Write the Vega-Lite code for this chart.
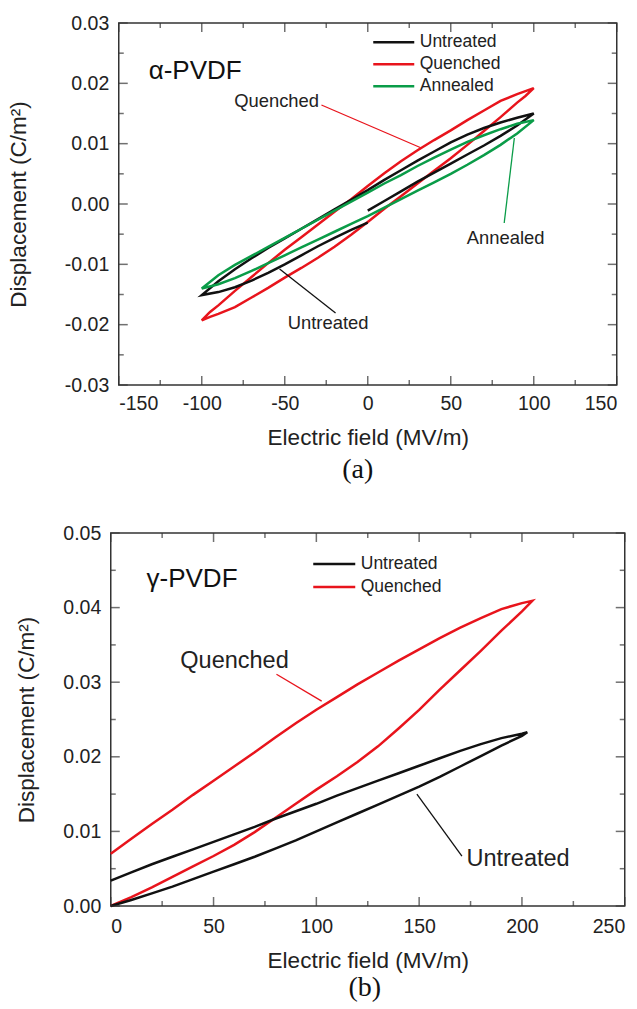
{
  "$schema": "https://vega.github.io/schema/vega-lite/v6.json",
  "padding": {"left": 6.5, "top": 12, "right": 0, "bottom": 5},
  "background": "white",
  "config": {
    "font": "Liberation Sans",
    "view": {"stroke": "#333333", "strokeWidth": 1.5},
    "axis": {"domain": false, "ticks": false, "grid": false, "labelFont": "Liberation Sans", "labelFontSize": 19.5, "labelColor": "#222222", "titleFont": "Liberation Sans", "titleFontSize": 22.5, "titleFontWeight": "normal", "titleColor": "#222222"},
    "legend": {"title": null, "symbolType": "stroke", "symbolStrokeWidth": 2.5, "labelFont": "Liberation Sans", "labelFontSize": 17.5, "labelColor": "#222222", "labelOffset": 4, "padding": 0, "rowPadding": 2}
  },
  "datasets": {
    "alpha": [
      {"s":"Quenched","i":0,"E":0,"D":-0.0030},{"s":"Quenched","i":1,"E":10,"D":-0.0008},{"s":"Quenched","i":2,"E":20,"D":0.0013},{"s":"Quenched","i":3,"E":30,"D":0.0034},{"s":"Quenched","i":4,"E":40,"D":0.0055},{"s":"Quenched","i":5,"E":50,"D":0.0076},{"s":"Quenched","i":6,"E":60,"D":0.0098},{"s":"Quenched","i":7,"E":70,"D":0.0121},{"s":"Quenched","i":8,"E":80,"D":0.0144},{"s":"Quenched","i":9,"E":90,"D":0.0168},{"s":"Quenched","i":10,"E":95,"D":0.0179},{"s":"Quenched","i":11,"E":100,"D":0.0192},
      {"s":"Quenched","i":12,"E":95,"D":0.0187},{"s":"Quenched","i":13,"E":90,"D":0.0182},{"s":"Quenched","i":14,"E":80,"D":0.0171},{"s":"Quenched","i":15,"E":70,"D":0.0155},{"s":"Quenched","i":16,"E":60,"D":0.0139},{"s":"Quenched","i":17,"E":50,"D":0.0122},{"s":"Quenched","i":18,"E":40,"D":0.0106},{"s":"Quenched","i":19,"E":30,"D":0.0089},{"s":"Quenched","i":20,"E":20,"D":0.0071},{"s":"Quenched","i":21,"E":10,"D":0.0051},{"s":"Quenched","i":22,"E":0,"D":0.0030},{"s":"Quenched","i":23,"E":-10,"D":0.0008},{"s":"Quenched","i":24,"E":-20,"D":-0.0013},{"s":"Quenched","i":25,"E":-30,"D":-0.0034},{"s":"Quenched","i":26,"E":-40,"D":-0.0055},{"s":"Quenched","i":27,"E":-50,"D":-0.0076},{"s":"Quenched","i":28,"E":-60,"D":-0.0098},{"s":"Quenched","i":29,"E":-70,"D":-0.0121},{"s":"Quenched","i":30,"E":-80,"D":-0.0144},{"s":"Quenched","i":31,"E":-90,"D":-0.0168},{"s":"Quenched","i":32,"E":-95,"D":-0.0179},{"s":"Quenched","i":33,"E":-100,"D":-0.0193},
      {"s":"Quenched","i":34,"E":-95,"D":-0.0187},{"s":"Quenched","i":35,"E":-90,"D":-0.0182},{"s":"Quenched","i":36,"E":-80,"D":-0.0171},{"s":"Quenched","i":37,"E":-70,"D":-0.0155},{"s":"Quenched","i":38,"E":-60,"D":-0.0139},{"s":"Quenched","i":39,"E":-50,"D":-0.0122},{"s":"Quenched","i":40,"E":-40,"D":-0.0106},{"s":"Quenched","i":41,"E":-30,"D":-0.0089},{"s":"Quenched","i":42,"E":-20,"D":-0.0071},{"s":"Quenched","i":43,"E":-10,"D":-0.0051},{"s":"Quenched","i":44,"E":0,"D":-0.0030},
      {"s":"Untreated","i":0,"E":0,"D":-0.0011},{"s":"Untreated","i":1,"E":10,"D":0.0005},{"s":"Untreated","i":2,"E":20,"D":0.0021},{"s":"Untreated","i":3,"E":30,"D":0.0037},{"s":"Untreated","i":4,"E":40,"D":0.0052},{"s":"Untreated","i":5,"E":50,"D":0.0067},{"s":"Untreated","i":6,"E":60,"D":0.0082},{"s":"Untreated","i":7,"E":70,"D":0.0097},{"s":"Untreated","i":8,"E":80,"D":0.0113},{"s":"Untreated","i":9,"E":90,"D":0.0130},{"s":"Untreated","i":10,"E":100,"D":0.0150},
      {"s":"Untreated","i":11,"E":90,"D":0.0143},{"s":"Untreated","i":12,"E":80,"D":0.0135},{"s":"Untreated","i":13,"E":70,"D":0.0126},{"s":"Untreated","i":14,"E":60,"D":0.0115},{"s":"Untreated","i":15,"E":50,"D":0.0102},{"s":"Untreated","i":16,"E":40,"D":0.0087},{"s":"Untreated","i":17,"E":30,"D":0.0072},{"s":"Untreated","i":18,"E":20,"D":0.0056},{"s":"Untreated","i":19,"E":10,"D":0.0040},{"s":"Untreated","i":20,"E":0,"D":0.0023},{"s":"Untreated","i":21,"E":-10,"D":0.0007},{"s":"Untreated","i":22,"E":-20,"D":-0.0009},{"s":"Untreated","i":23,"E":-30,"D":-0.0025},{"s":"Untreated","i":24,"E":-40,"D":-0.0041},{"s":"Untreated","i":25,"E":-50,"D":-0.0057},{"s":"Untreated","i":26,"E":-60,"D":-0.0073},{"s":"Untreated","i":27,"E":-70,"D":-0.0090},{"s":"Untreated","i":28,"E":-80,"D":-0.0108},{"s":"Untreated","i":29,"E":-90,"D":-0.0128},{"s":"Untreated","i":30,"E":-100,"D":-0.0151},
      {"s":"Untreated","i":31,"E":-90,"D":-0.0146},{"s":"Untreated","i":32,"E":-80,"D":-0.0138},{"s":"Untreated","i":33,"E":-70,"D":-0.0127},{"s":"Untreated","i":34,"E":-60,"D":-0.0114},{"s":"Untreated","i":35,"E":-50,"D":-0.0100},{"s":"Untreated","i":36,"E":-40,"D":-0.0085},{"s":"Untreated","i":37,"E":-30,"D":-0.0070},{"s":"Untreated","i":38,"E":-20,"D":-0.0056},{"s":"Untreated","i":39,"E":-10,"D":-0.0043},{"s":"Untreated","i":40,"E":0,"D":-0.0031},
      {"s":"Annealed","i":0,"E":0,"D":-0.0020},{"s":"Annealed","i":1,"E":10,"D":-0.0006},{"s":"Annealed","i":2,"E":20,"D":0.0008},{"s":"Annealed","i":3,"E":30,"D":0.0022},{"s":"Annealed","i":4,"E":40,"D":0.0036},{"s":"Annealed","i":5,"E":50,"D":0.0050},{"s":"Annealed","i":6,"E":60,"D":0.0065},{"s":"Annealed","i":7,"E":70,"D":0.0081},{"s":"Annealed","i":8,"E":80,"D":0.0098},{"s":"Annealed","i":9,"E":90,"D":0.0117},{"s":"Annealed","i":10,"E":100,"D":0.0139},
      {"s":"Annealed","i":11,"E":90,"D":0.0133},{"s":"Annealed","i":12,"E":80,"D":0.0124},{"s":"Annealed","i":13,"E":70,"D":0.0114},{"s":"Annealed","i":14,"E":60,"D":0.0103},{"s":"Annealed","i":15,"E":50,"D":0.0090},{"s":"Annealed","i":16,"E":40,"D":0.0077},{"s":"Annealed","i":17,"E":30,"D":0.0063},{"s":"Annealed","i":18,"E":20,"D":0.0048},{"s":"Annealed","i":19,"E":10,"D":0.0034},{"s":"Annealed","i":20,"E":0,"D":0.0019},{"s":"Annealed","i":21,"E":-10,"D":0.0004},{"s":"Annealed","i":22,"E":-20,"D":-0.0011},{"s":"Annealed","i":23,"E":-30,"D":-0.0026},{"s":"Annealed","i":24,"E":-40,"D":-0.0041},{"s":"Annealed","i":25,"E":-50,"D":-0.0056},{"s":"Annealed","i":26,"E":-60,"D":-0.0071},{"s":"Annealed","i":27,"E":-70,"D":-0.0086},{"s":"Annealed","i":28,"E":-80,"D":-0.0101},{"s":"Annealed","i":29,"E":-90,"D":-0.0118},{"s":"Annealed","i":30,"E":-100,"D":-0.0140},
      {"s":"Annealed","i":31,"E":-90,"D":-0.0133},{"s":"Annealed","i":32,"E":-80,"D":-0.0123},{"s":"Annealed","i":33,"E":-70,"D":-0.0111},{"s":"Annealed","i":34,"E":-60,"D":-0.0098},{"s":"Annealed","i":35,"E":-50,"D":-0.0085},{"s":"Annealed","i":36,"E":-40,"D":-0.0072},{"s":"Annealed","i":37,"E":-30,"D":-0.0059},{"s":"Annealed","i":38,"E":-20,"D":-0.0046},{"s":"Annealed","i":39,"E":-10,"D":-0.0033},{"s":"Annealed","i":40,"E":0,"D":-0.0020}
    ],
    "alphaNotes": [
      {"s":"Quenched","label":"Quenched","tx":-54.9,"ty":0.0171,"x1":-27.9,"y1":0.01641,"x2":32.3,"y2":0.00928},
      {"s":"Annealed","label":"Annealed","tx":83.1,"ty":-0.00564,"x1":82.2,"y1":-0.00315,"x2":88.3,"y2":0.01094},
      {"s":"Untreated","label":"Untreated","tx":-23.9,"ty":-0.01972,"x1":-19.4,"y1":-0.01807,"x2":-53.1,"y2":-0.01077}
    ],
    "alphaTag": [{"label":"α-PVDF","E":-132,"D":0.0221}],
    "alphaTicksX": [
      {"v":-150,"k":"major"},{"v":-125,"k":"minor"},{"v":-100,"k":"major"},{"v":-75,"k":"minor"},{"v":-50,"k":"major"},{"v":-25,"k":"minor"},{"v":0,"k":"major"},
      {"v":25,"k":"minor"},{"v":50,"k":"major"},{"v":75,"k":"minor"},{"v":100,"k":"major"},{"v":125,"k":"minor"},{"v":150,"k":"major"}
    ],
    "alphaTicksY": [
      {"v":-0.03,"k":"major"},{"v":-0.025,"k":"minor"},{"v":-0.02,"k":"major"},{"v":-0.015,"k":"minor"},{"v":-0.01,"k":"major"},{"v":-0.005,"k":"minor"},{"v":0,"k":"major"},
      {"v":0.005,"k":"minor"},{"v":0.01,"k":"major"},{"v":0.015,"k":"minor"},{"v":0.02,"k":"major"},{"v":0.025,"k":"minor"},{"v":0.03,"k":"major"}
    ],
    "gamma": [
      {"s":"Quenched","i":0,"E":0,"D":0},{"s":"Quenched","i":1,"E":10,"D":0.0012},{"s":"Quenched","i":2,"E":20,"D":0.0025},{"s":"Quenched","i":3,"E":30,"D":0.0039},{"s":"Quenched","i":4,"E":40,"D":0.0053},{"s":"Quenched","i":5,"E":50,"D":0.0067},{"s":"Quenched","i":6,"E":60,"D":0.0082},{"s":"Quenched","i":7,"E":70,"D":0.0099},{"s":"Quenched","i":8,"E":80,"D":0.0118},{"s":"Quenched","i":9,"E":90,"D":0.0137},{"s":"Quenched","i":10,"E":100,"D":0.0156},{"s":"Quenched","i":11,"E":110,"D":0.0174},{"s":"Quenched","i":12,"E":120,"D":0.0193},{"s":"Quenched","i":13,"E":130,"D":0.0214},{"s":"Quenched","i":14,"E":140,"D":0.0238},{"s":"Quenched","i":15,"E":150,"D":0.0263},{"s":"Quenched","i":16,"E":160,"D":0.0290},{"s":"Quenched","i":17,"E":170,"D":0.0316},{"s":"Quenched","i":18,"E":180,"D":0.0342},{"s":"Quenched","i":19,"E":190,"D":0.0369},{"s":"Quenched","i":20,"E":200,"D":0.0395},{"s":"Quenched","i":21,"E":205,"D":0.0409},
      {"s":"Quenched","i":22,"E":200,"D":0.0406},{"s":"Quenched","i":23,"E":190,"D":0.0398},{"s":"Quenched","i":24,"E":180,"D":0.0386},{"s":"Quenched","i":25,"E":170,"D":0.0373},{"s":"Quenched","i":26,"E":160,"D":0.0359},{"s":"Quenched","i":27,"E":150,"D":0.0344},{"s":"Quenched","i":28,"E":140,"D":0.0329},{"s":"Quenched","i":29,"E":130,"D":0.0313},{"s":"Quenched","i":30,"E":120,"D":0.0297},{"s":"Quenched","i":31,"E":110,"D":0.0280},{"s":"Quenched","i":32,"E":100,"D":0.0263},{"s":"Quenched","i":33,"E":90,"D":0.0245},{"s":"Quenched","i":34,"E":80,"D":0.0226},{"s":"Quenched","i":35,"E":70,"D":0.0206},{"s":"Quenched","i":36,"E":60,"D":0.0187},{"s":"Quenched","i":37,"E":50,"D":0.0168},{"s":"Quenched","i":38,"E":40,"D":0.0149},{"s":"Quenched","i":39,"E":30,"D":0.0129},{"s":"Quenched","i":40,"E":20,"D":0.0110},{"s":"Quenched","i":41,"E":10,"D":0.0090},{"s":"Quenched","i":42,"E":0,"D":0.0070},
      {"s":"Untreated","i":0,"E":0,"D":0},{"s":"Untreated","i":1,"E":10,"D":0.0008},{"s":"Untreated","i":2,"E":20,"D":0.0017},{"s":"Untreated","i":3,"E":30,"D":0.0026},{"s":"Untreated","i":4,"E":40,"D":0.0036},{"s":"Untreated","i":5,"E":50,"D":0.0046},{"s":"Untreated","i":6,"E":60,"D":0.0056},{"s":"Untreated","i":7,"E":70,"D":0.0066},{"s":"Untreated","i":8,"E":80,"D":0.0077},{"s":"Untreated","i":9,"E":90,"D":0.0088},{"s":"Untreated","i":10,"E":100,"D":0.0100},{"s":"Untreated","i":11,"E":110,"D":0.0112},{"s":"Untreated","i":12,"E":120,"D":0.0124},{"s":"Untreated","i":13,"E":130,"D":0.0136},{"s":"Untreated","i":14,"E":140,"D":0.0148},{"s":"Untreated","i":15,"E":150,"D":0.0160},{"s":"Untreated","i":16,"E":160,"D":0.0173},{"s":"Untreated","i":17,"E":170,"D":0.0187},{"s":"Untreated","i":18,"E":180,"D":0.0201},{"s":"Untreated","i":19,"E":190,"D":0.0215},{"s":"Untreated","i":20,"E":200,"D":0.0228},{"s":"Untreated","i":21,"E":202.6,"D":0.0233},
      {"s":"Untreated","i":22,"E":200,"D":0.0231},{"s":"Untreated","i":23,"E":190,"D":0.0225},{"s":"Untreated","i":24,"E":180,"D":0.0217},{"s":"Untreated","i":25,"E":170,"D":0.0208},{"s":"Untreated","i":26,"E":160,"D":0.0198},{"s":"Untreated","i":27,"E":150,"D":0.0188},{"s":"Untreated","i":28,"E":140,"D":0.0178},{"s":"Untreated","i":29,"E":130,"D":0.0168},{"s":"Untreated","i":30,"E":120,"D":0.0158},{"s":"Untreated","i":31,"E":110,"D":0.0148},{"s":"Untreated","i":32,"E":100,"D":0.0137},{"s":"Untreated","i":33,"E":90,"D":0.0127},{"s":"Untreated","i":34,"E":80,"D":0.0117},{"s":"Untreated","i":35,"E":70,"D":0.0106},{"s":"Untreated","i":36,"E":60,"D":0.0096},{"s":"Untreated","i":37,"E":50,"D":0.0086},{"s":"Untreated","i":38,"E":40,"D":0.0076},{"s":"Untreated","i":39,"E":30,"D":0.0066},{"s":"Untreated","i":40,"E":20,"D":0.0056},{"s":"Untreated","i":41,"E":10,"D":0.0045},{"s":"Untreated","i":42,"E":0,"D":0.0034}
    ],
    "gammaNotes": [
      {"s":"Quenched","label":"Quenched","tx":60.2,"ty":0.0328,"x1":80.6,"y1":0.03107,"x2":102.6,"y2":0.02746},
      {"s":"Untreated","label":"Untreated","tx":198.1,"ty":0.0063,"x1":170.8,"y1":0.0067,"x2":148.9,"y2":0.0150}
    ],
    "gammaTag": [{"label":"γ-PVDF","E":17.4,"D":0.0438}],
    "gammaTicksX": [
      {"v":0,"k":"major"},{"v":25,"k":"minor"},{"v":50,"k":"major"},{"v":75,"k":"minor"},{"v":100,"k":"major"},{"v":125,"k":"minor"},
      {"v":150,"k":"major"},{"v":175,"k":"minor"},{"v":200,"k":"major"},{"v":225,"k":"minor"},{"v":250,"k":"major"}
    ],
    "gammaTicksY": [
      {"v":0,"k":"major"},{"v":0.005,"k":"minor"},{"v":0.01,"k":"major"},{"v":0.015,"k":"minor"},{"v":0.02,"k":"major"},{"v":0.025,"k":"minor"},
      {"v":0.03,"k":"major"},{"v":0.035,"k":"minor"},{"v":0.04,"k":"major"},{"v":0.045,"k":"minor"},{"v":0.05,"k":"major"}
    ]
  },
  "center": true,
  "spacing": 37,
  "resolve": {"scale": {"color": "independent"}, "legend": {"color": "independent"}},
  "vconcat": [
    {
      "width": 498,
      "height": 362,
      "title": {"text": "(a)", "orient": "bottom", "anchor": "middle", "font": "Liberation Serif", "fontSize": 28, "fontWeight": "normal", "color": "#111111", "offset": 7, "dx": -10},
      "layer": [
        {
          "data": {"name": "alpha"},
          "mark": {"type": "line", "strokeWidth": 2.5},
          "encoding": {
            "x": {"field": "E", "type": "quantitative", "scale": {"domain": [-150, 150], "nice": false, "zero": false},
                  "axis": {"orient": "bottom", "title": "Electric field (MV/m)", "values": [-150, -100, -50, 0, 50, 100, 150],
                           "labelExpr": "replace(datum.label, '−', '-')", "labelPadding": 9, "titlePadding": 14}},
            "y": {"field": "D", "type": "quantitative", "scale": {"domain": [-0.03, 0.03], "nice": false, "zero": false},
                  "axis": {"orient": "left", "title": "Displacement (C/m²)", "values": [-0.03, -0.02, -0.01, 0, 0.01, 0.02, 0.03],
                           "labelExpr": "replace(format(datum.value, '.2f'), '−', '-')", "labelPadding": 10, "titlePadding": 34}},
            "color": {"field": "s", "type": "nominal", "scale": {"domain": ["Untreated", "Quenched", "Annealed"], "range": ["#111111", "#e8141c", "#0a9c48"]},
                      "legend": {"orient": "none", "legendX": 253, "legendY": 9.5, "symbolSize": 1681, "clipHeight": 19.5}},
            "order": {"field": "i", "type": "quantitative"}
          }
        },
        {
          "mark": {"type": "rule", "color": "#555555", "strokeWidth": 1},
          "encoding": {"x": {"datum": 0, "type": "quantitative"}}
        },
        {
          "mark": {"type": "rule", "color": "#555555", "strokeWidth": 1},
          "encoding": {"y": {"datum": 0, "type": "quantitative"}}
        },
        {
          "data": {"name": "alphaTicksX"}, "transform": [{"filter": "datum.k === 'major'"}],
          "mark": {"type": "tick", "orient": "vertical", "size": 9, "thickness": 1.5, "color": "#333333", "yOffset": -4.5},
          "encoding": {"x": {"field": "v", "type": "quantitative"}, "y": {"datum": -0.03, "type": "quantitative"}}
        },
        {
          "data": {"name": "alphaTicksX"}, "transform": [{"filter": "datum.k === 'minor'"}],
          "mark": {"type": "tick", "orient": "vertical", "size": 5, "thickness": 1.5, "color": "#333333", "yOffset": -2.5},
          "encoding": {"x": {"field": "v", "type": "quantitative"}, "y": {"datum": -0.03, "type": "quantitative"}}
        },
        {
          "data": {"name": "alphaTicksX"}, "transform": [{"filter": "datum.k === 'major'"}],
          "mark": {"type": "tick", "orient": "vertical", "size": 9, "thickness": 1.5, "color": "#333333", "yOffset": 4.5},
          "encoding": {"x": {"field": "v", "type": "quantitative"}, "y": {"datum": 0.03, "type": "quantitative"}}
        },
        {
          "data": {"name": "alphaTicksX"}, "transform": [{"filter": "datum.k === 'minor'"}],
          "mark": {"type": "tick", "orient": "vertical", "size": 5, "thickness": 1.5, "color": "#333333", "yOffset": 2.5},
          "encoding": {"x": {"field": "v", "type": "quantitative"}, "y": {"datum": 0.03, "type": "quantitative"}}
        },
        {
          "data": {"name": "alphaTicksY"}, "transform": [{"filter": "datum.k === 'major'"}],
          "mark": {"type": "tick", "orient": "horizontal", "size": 9, "thickness": 1.5, "color": "#333333", "xOffset": 4.5},
          "encoding": {"y": {"field": "v", "type": "quantitative"}, "x": {"datum": -150, "type": "quantitative"}}
        },
        {
          "data": {"name": "alphaTicksY"}, "transform": [{"filter": "datum.k === 'minor'"}],
          "mark": {"type": "tick", "orient": "horizontal", "size": 5, "thickness": 1.5, "color": "#333333", "xOffset": 2.5},
          "encoding": {"y": {"field": "v", "type": "quantitative"}, "x": {"datum": -150, "type": "quantitative"}}
        },
        {
          "data": {"name": "alphaTicksY"}, "transform": [{"filter": "datum.k === 'major'"}],
          "mark": {"type": "tick", "orient": "horizontal", "size": 9, "thickness": 1.5, "color": "#333333", "xOffset": -4.5},
          "encoding": {"y": {"field": "v", "type": "quantitative"}, "x": {"datum": 150, "type": "quantitative"}}
        },
        {
          "data": {"name": "alphaTicksY"}, "transform": [{"filter": "datum.k === 'minor'"}],
          "mark": {"type": "tick", "orient": "horizontal", "size": 5, "thickness": 1.5, "color": "#333333", "xOffset": -2.5},
          "encoding": {"y": {"field": "v", "type": "quantitative"}, "x": {"datum": 150, "type": "quantitative"}}
        },
        {
          "data": {"name": "alphaNotes"},
          "mark": {"type": "rule", "strokeWidth": 1.3},
          "encoding": {
            "x": {"field": "x1", "type": "quantitative"},
            "y": {"field": "y1", "type": "quantitative"},
            "x2": {"field": "x2"},
            "y2": {"field": "y2"},
            "color": {"field": "s", "type": "nominal"}
          }
        },
        {
          "data": {"name": "alphaNotes"},
          "mark": {"type": "text", "fontSize": 18.4, "color": "#222222", "align": "center", "baseline": "middle"},
          "encoding": {
            "x": {"field": "tx", "type": "quantitative"},
            "y": {"field": "ty", "type": "quantitative"},
            "text": {"field": "label"}
          }
        },
        {
          "data": {"name": "alphaTag"},
          "mark": {"type": "text", "fontSize": 26, "color": "#111111", "align": "left", "baseline": "middle"},
          "encoding": {
            "x": {"field": "E", "type": "quantitative"},
            "y": {"field": "D", "type": "quantitative"},
            "text": {"field": "label"}
          }
        }
      ]
    },
    {
      "width": 514,
      "height": 373,
      "title": {"text": "(b)", "orient": "bottom", "anchor": "middle", "font": "Liberation Serif", "fontSize": 28, "fontWeight": "normal", "color": "#111111", "offset": 2, "dx": -3},
      "layer": [
        {
          "data": {"name": "gamma"},
          "mark": {"type": "line", "strokeWidth": 2.5},
          "encoding": {
            "x": {"field": "E", "type": "quantitative", "scale": {"domain": [0, 250], "nice": false, "zero": false},
                  "axis": {"orient": "bottom", "title": "Electric field (MV/m)", "values": [0, 50, 100, 150, 200, 250], "labelPadding": 11, "titlePadding": 14}},
            "y": {"field": "D", "type": "quantitative", "scale": {"domain": [0, 0.05], "nice": false, "zero": false},
                  "axis": {"orient": "left", "title": "Displacement (C/m²)", "values": [0, 0.01, 0.02, 0.03, 0.04, 0.05], "format": ".2f", "labelPadding": 10, "titlePadding": 24}},
            "color": {"field": "s", "type": "nominal", "scale": {"domain": ["Untreated", "Quenched"], "range": ["#111111", "#e8141c"]},
                      "legend": {"orient": "none", "legendX": 201, "legendY": 20.5, "symbolSize": 1764, "clipHeight": 21}},
            "order": {"field": "i", "type": "quantitative"}
          }
        },
        {
          "data": {"name": "gammaTicksX"}, "transform": [{"filter": "datum.k === 'major'"}],
          "mark": {"type": "tick", "orient": "vertical", "size": 9, "thickness": 1.5, "color": "#333333", "yOffset": -4.5},
          "encoding": {"x": {"field": "v", "type": "quantitative"}, "y": {"datum": 0, "type": "quantitative"}}
        },
        {
          "data": {"name": "gammaTicksX"}, "transform": [{"filter": "datum.k === 'minor'"}],
          "mark": {"type": "tick", "orient": "vertical", "size": 5, "thickness": 1.5, "color": "#333333", "yOffset": -2.5},
          "encoding": {"x": {"field": "v", "type": "quantitative"}, "y": {"datum": 0, "type": "quantitative"}}
        },
        {
          "data": {"name": "gammaTicksX"}, "transform": [{"filter": "datum.k === 'major'"}],
          "mark": {"type": "tick", "orient": "vertical", "size": 9, "thickness": 1.5, "color": "#333333", "yOffset": 4.5},
          "encoding": {"x": {"field": "v", "type": "quantitative"}, "y": {"datum": 0.05, "type": "quantitative"}}
        },
        {
          "data": {"name": "gammaTicksX"}, "transform": [{"filter": "datum.k === 'minor'"}],
          "mark": {"type": "tick", "orient": "vertical", "size": 5, "thickness": 1.5, "color": "#333333", "yOffset": 2.5},
          "encoding": {"x": {"field": "v", "type": "quantitative"}, "y": {"datum": 0.05, "type": "quantitative"}}
        },
        {
          "data": {"name": "gammaTicksY"}, "transform": [{"filter": "datum.k === 'major'"}],
          "mark": {"type": "tick", "orient": "horizontal", "size": 9, "thickness": 1.5, "color": "#333333", "xOffset": 4.5},
          "encoding": {"y": {"field": "v", "type": "quantitative"}, "x": {"datum": 0, "type": "quantitative"}}
        },
        {
          "data": {"name": "gammaTicksY"}, "transform": [{"filter": "datum.k === 'minor'"}],
          "mark": {"type": "tick", "orient": "horizontal", "size": 5, "thickness": 1.5, "color": "#333333", "xOffset": 2.5},
          "encoding": {"y": {"field": "v", "type": "quantitative"}, "x": {"datum": 0, "type": "quantitative"}}
        },
        {
          "data": {"name": "gammaTicksY"}, "transform": [{"filter": "datum.k === 'major'"}],
          "mark": {"type": "tick", "orient": "horizontal", "size": 9, "thickness": 1.5, "color": "#333333", "xOffset": -4.5},
          "encoding": {"y": {"field": "v", "type": "quantitative"}, "x": {"datum": 250, "type": "quantitative"}}
        },
        {
          "data": {"name": "gammaTicksY"}, "transform": [{"filter": "datum.k === 'minor'"}],
          "mark": {"type": "tick", "orient": "horizontal", "size": 5, "thickness": 1.5, "color": "#333333", "xOffset": -2.5},
          "encoding": {"y": {"field": "v", "type": "quantitative"}, "x": {"datum": 250, "type": "quantitative"}}
        },
        {
          "data": {"name": "gammaNotes"},
          "mark": {"type": "rule", "strokeWidth": 1.3},
          "encoding": {
            "x": {"field": "x1", "type": "quantitative"},
            "y": {"field": "y1", "type": "quantitative"},
            "x2": {"field": "x2"},
            "y2": {"field": "y2"},
            "color": {"field": "s", "type": "nominal"}
          }
        },
        {
          "data": {"name": "gammaNotes"},
          "mark": {"type": "text", "fontSize": 23.5, "color": "#222222", "align": "center", "baseline": "middle"},
          "encoding": {
            "x": {"field": "tx", "type": "quantitative"},
            "y": {"field": "ty", "type": "quantitative"},
            "text": {"field": "label"}
          }
        },
        {
          "data": {"name": "gammaTag"},
          "mark": {"type": "text", "fontSize": 26, "color": "#111111", "align": "left", "baseline": "middle"},
          "encoding": {
            "x": {"field": "E", "type": "quantitative"},
            "y": {"field": "D", "type": "quantitative"},
            "text": {"field": "label"}
          }
        }
      ]
    }
  ]
}
